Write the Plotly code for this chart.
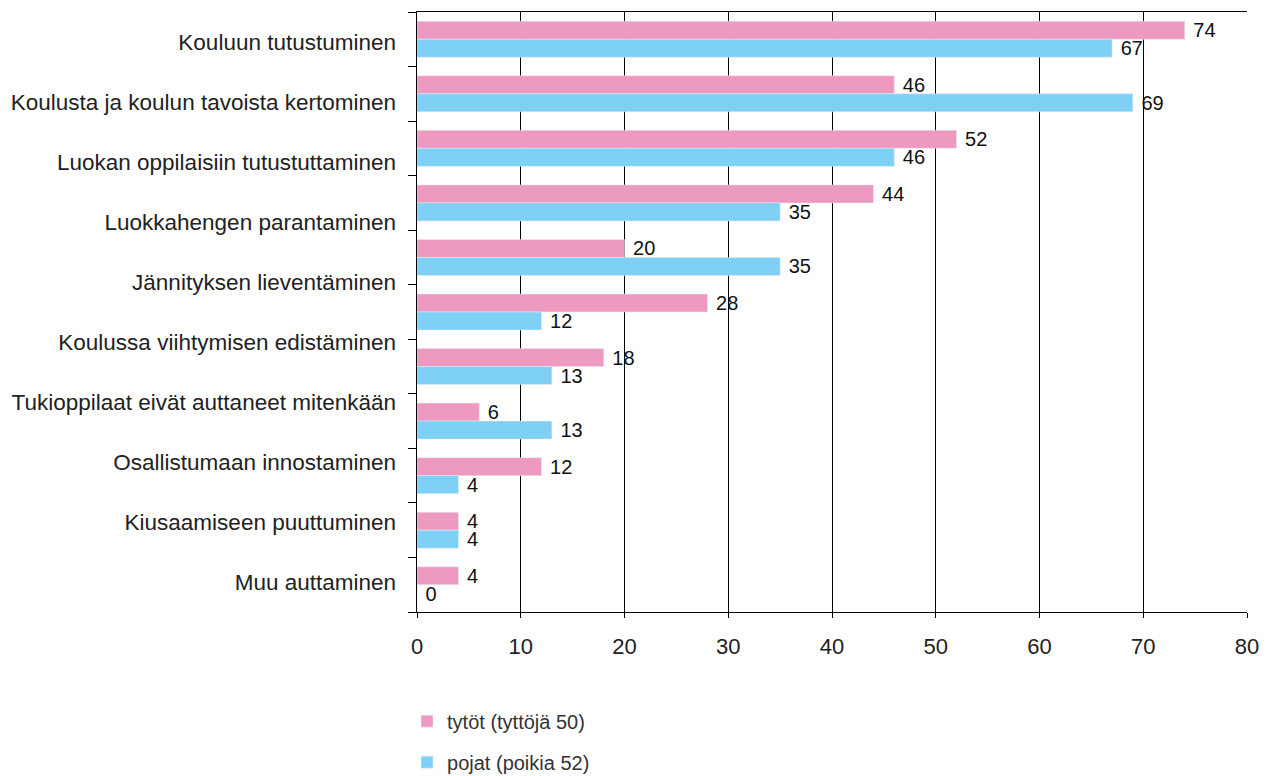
import plotly.graph_objects as go

# 11 bar pairs in the source chart, but only 10 category labels spread over the axis
labels = ["Kouluun tutustuminen", "Koulusta ja koulun tavoista kertominen",
          "Luokan oppilaisiin tutustuttaminen", "Luokkahengen parantaminen",
          "Jännityksen lieventäminen", "Koulussa viihtymisen edistäminen",
          "Tukioppilaat eivät auttaneet mitenkään", "Osallistumaan innostaminen",
          "Kiusaamiseen puuttuminen", "Muu auttaminen"]
rows = list(range(11))

girls = [74, 46, 52, 44, 20, 28, 18, 6, 12, 4, 4]
boys = [67, 69, 46, 35, 35, 12, 13, 13, 4, 4, 0]

font = "Liberation Sans, Arial, sans-serif"

fig = go.Figure()
fig.add_trace(go.Bar(y=rows, x=girls, orientation="h", name="tytöt (tyttöjä 50)",
                     marker_color="#EE9AC0", text=girls, texttemplate="\u00a0%{x}",
                     textposition="outside", constraintext="none",
                     textfont=dict(size=20, color="#111"),
                     cliponaxis=False, legendgroup="a"))
fig.add_trace(go.Bar(y=rows, x=boys, orientation="h", name="pojat (poikia 52)",
                     marker_color="#7FD0F5", text=boys, texttemplate="\u00a0%{x}",
                     textposition="outside", constraintext="none",
                     textfont=dict(size=20, color="#111"),
                     cliponaxis=False, legendgroup="b"))
# helper trace so the label axis is drawn
fig.add_trace(go.Scatter(x=[None], y=[None], yaxis="y2", showlegend=False, hoverinfo="skip"))

fig.update_layout(
    width=1264, height=776,
    margin=dict(l=407, r=25, t=3, b=172),
    plot_bgcolor="white", paper_bgcolor="white",
    barmode="group", bargap=0.34, bargroupgap=0,
    font=dict(family=font, size=21, color="#222"),
    legend=dict(x=-0.012, xanchor="left", y=0.003, yref="container", yanchor="bottom",
                orientation="v", font=dict(size=20, color="#333"),
                traceorder="grouped", tracegroupgap=12),
    yaxis2=dict(overlaying="y", side="left", anchor="x", range=[10, 0],
                tickmode="array", tickvals=[i + 0.5 for i in range(10)], ticktext=labels,
                ticks="", showline=False, showgrid=False, zeroline=False,
                ticklabelstandoff=20, tickfont=dict(size=22.5, color="#222")),
)
fig.update_xaxes(range=[0, 80], dtick=10, showgrid=True, gridcolor="black", gridwidth=1,
                 showline=True, linecolor="black", mirror=True, ticks="outside", ticklen=5,
                 tickcolor="black", zeroline=False, ticklabelstandoff=10,
                 tickfont=dict(size=22, color="#222"))
fig.update_yaxes(selector=dict(overlaying=None), range=[10.5, -0.5],
                 tickmode="array", tickvals=[i - 0.5 for i in range(12)],
                 showticklabels=False, ticks="outside", ticklen=8, tickcolor="black",
                 showline=True, linecolor="black", showgrid=False, zeroline=False)

fig.write_html("out.html")
